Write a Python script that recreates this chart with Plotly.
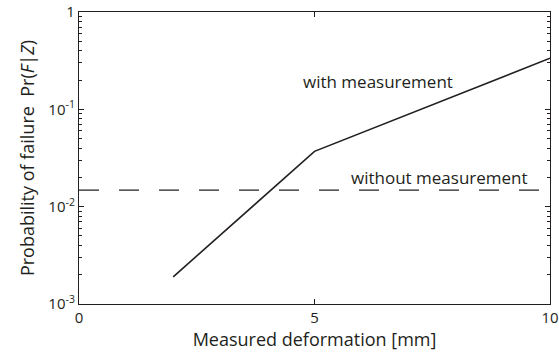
import plotly.graph_objects as go

# Data
x_with = [2, 5, 10]
y_with = [0.0019, 0.037, 0.335]
x_without = [0, 10]
y_without = [0.0148, 0.0148]

x_tickvals = [0, 5, 10]
x_ticktext = ["0", "5", "10"]
y_tickvals = [1e-3, 1e-2, 1e-1, 1]
y_ticktext = ["10<sup>-3</sup>", "10<sup>-2</sup>", "10<sup>-1</sup>", "1"]
y_minor_vals = [m * 10.0 ** e for e in (-3, -2, -1) for m in range(2, 10)]

FONT = "Open Sans"
TXT = "#231f20"

fig = go.Figure()
fig.add_trace(go.Scatter(x=x_without, y=y_without, mode="lines",
                         line=dict(color="#231f20", width=1.2, dash="20px,20px"),
                         showlegend=False, hoverinfo="skip"))
fig.add_trace(go.Scatter(x=x_with, y=y_with, mode="lines",
                         line=dict(color="#231f20", width=1.6),
                         showlegend=False))

fig.add_annotation(x=6.34, y=-0.71, xref="x", yref="y", text="with measurement",
                   showarrow=False, xanchor="center", yanchor="middle",
                   font=dict(family=FONT, size=17, color=TXT))
fig.add_annotation(x=7.66, y=-1.70, xref="x", yref="y", text="without measurement",
                   showarrow=False, xanchor="center", yanchor="middle",
                   font=dict(family=FONT, size=17, color=TXT))

fig.update_layout(
    width=559, height=356,
    margin=dict(l=79, r=9, t=12, b=52),
    paper_bgcolor="white", plot_bgcolor="white",
    font=dict(family=FONT, color=TXT),
    xaxis=dict(range=[0, 10], tickmode="array", tickvals=x_tickvals, ticktext=x_ticktext,
               ticks="inside", ticklen=5, tickwidth=1, tickcolor="#231f20", automargin=False,
               showline=True, linecolor="#231f20", linewidth=1.2, mirror="ticks",
               showgrid=False, zeroline=False,
               tickfont=dict(family=FONT, size=15, color=TXT),
               title=dict(text="Measured deformation [mm]", standoff=6,
                          font=dict(family=FONT, size=18, color=TXT))),
    yaxis=dict(type="log", range=[-3, 0], tickmode="array", tickvals=y_tickvals, ticktext=y_ticktext,
               ticks="inside", ticklen=5, tickwidth=1, tickcolor="#231f20", automargin=False,
               showline=True, linecolor="#231f20", linewidth=1.2, mirror="ticks",
               showgrid=False, zeroline=False,
               minor=dict(tickmode="array", tickvals=y_minor_vals, ticks="inside",
                          ticklen=3, tickwidth=1, tickcolor="#231f20", showgrid=False),
               tickfont=dict(family=FONT, size=15, color=TXT),
               title=dict(text="Probability of failure  Pr(<i>F</i>|<i>Z</i>)", standoff=9,
                          font=dict(family=FONT, size=18, color=TXT))),
)

fig.write_html("out.html")
